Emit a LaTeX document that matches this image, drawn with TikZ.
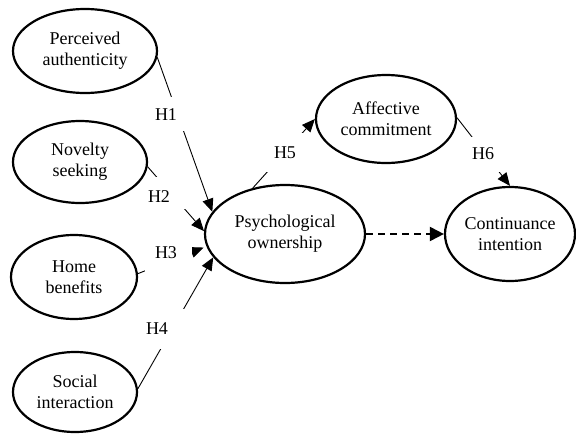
\documentclass[tikz,border=0pt]{standalone}
\usepackage{fontspec}
\setmainfont{Liberation Serif}
\usetikzlibrary{arrows.meta,shapes.geometric}
\pgfdeclarelayer{bg}
\pgfdeclarelayer{mask}
\pgfsetlayers{bg,mask,main}
\tikzset{
  latent/.style={ellipse, draw=black, line width=2.2pt, inner sep=0pt, align=center,
    font=\fontsize{18}{21}\selectfont},
  hyp/.style={line width=0.9pt, -{Triangle[length=13pt,width=11pt]}},
  dashhyp/.style={line width=2pt, dash pattern=on 7pt off 5pt, -{Triangle[length=14pt,width=14pt]}},
  hlabel/.style={inner sep=0pt, font=\fontsize{18}{21}\selectfont},
  gapmask/.style={fill=white}
}
\begin{document}
\begin{tikzpicture}[x=1pt,y=-1pt]
\useasboundingbox (0,0) rectangle (576,434);
% constructs
\node[latent, minimum width=144pt, minimum height=84pt] (pa) at (85,51) {Perceived\\authenticity};
\node[latent, minimum width=134pt, minimum height=82pt] (ns) at (80,162) {Novelty\\seeking};
\node[latent, minimum width=126pt, minimum height=84pt] (hb) at (74,277) {Home\\benefits};
\node[latent, minimum width=124pt, minimum height=80pt] (si) at (75,392) {Social\\interaction};
\node[latent, minimum width=160pt, minimum height=98pt] (po) at (285,234) {Psychological\\ownership};
\node[latent, minimum width=140pt, minimum height=88pt] (ac) at (386,119) {Affective\\commitment};
\node[latent, minimum width=130pt, minimum height=94pt] (ci) at (510,234) {Continuance\\intention};
% connectors
\begin{pgfonlayer}{bg}
\draw[hyp] (pa.-5) -- (po.163);
\draw[hyp] (ns.-4) -- (po.178);
\draw[hyp, shorten >=3pt] (hb.3) -- (po.189);
\draw[hyp] (si.3) -- (po.198);
\draw[hyp] (po.125) -- (ac.180);
\draw[hyp] (ac.1) -- (ci.90);
\draw[dashhyp] (po.east) -- (ci.west);
\end{pgfonlayer}
% gaps behind the hypothesis labels
\begin{pgfonlayer}{mask}
\path[gapmask] (145,97) rectangle (190,131);
\path[gapmask] (140,177) rectangle (190,209);
\path[gapmask] (145,240) rectangle (192,278);
\path[gapmask] (140,309) rectangle (190,349);
\path[gapmask] (262,133) rectangle (306,172);
\path[gapmask] (466,137) rectangle (502,172);
\end{pgfonlayer}
% labels
\node[hlabel] (h1) at (166,115) {H1};
\node[hlabel] (h2) at (159,197) {H2};
\node[hlabel] (h3) at (166,253) {H3};
\node[hlabel] (h4) at (157,329) {H4};
\node[hlabel] (h5) at (285,153) {H5};
\node[hlabel] (h6) at (483,154) {H6};
\end{tikzpicture}
\end{document}
